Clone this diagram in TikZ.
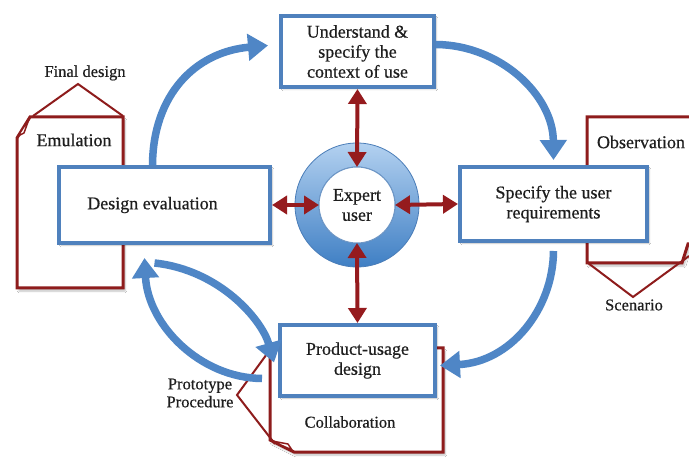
\documentclass[tikz,border=0pt]{standalone}
\usepackage{fontspec}
\setmainfont{Liberation Serif}[FakeBold=0.5]
\usetikzlibrary{arrows.meta,shadows.blur,calc}
\definecolor{boxblue}{HTML}{4F81BD}
\definecolor{arrblue}{HTML}{4F86C6}
\definecolor{docred}{HTML}{8E1C1C}
\definecolor{redarrow}{HTML}{951B1E}
\definecolor{txt}{HTML}{1E1E1E}
\definecolor{ringtop}{HTML}{B3D1F0}
\definecolor{ringbot}{HTML}{3F7FC4}
\definecolor{ringedge}{HTML}{4A7DB8}
\begin{document}
\begin{tikzpicture}[x=1pt,y=-1pt,
  procbox/.style={draw=boxblue, line width=4pt, fill=white, align=center,
    font=\fontsize{18}{20}\selectfont, text=txt, inner sep=0pt,
    blur shadow={shadow xshift=2pt, shadow yshift=-2pt, shadow blur steps=6, shadow opacity=25}},
  doc/.style={draw=docred, line width=3pt, line join=miter, fill=white,
    blur shadow={shadow xshift=2pt, shadow yshift=-3pt, shadow blur steps=6, shadow opacity=25}},
  docthin/.style={draw=docred, line width=2pt},
  flow/.style={draw=arrblue, line width=7.5pt, -{Triangle[length=20pt,width=26pt]}},
  twoway/.style={draw=redarrow, line width=4pt,
    {Triangle[length=15pt,width=18pt]}-{Triangle[length=15pt,width=18pt]}},
  lbl/.style={text=txt, inner sep=0pt},
  big/.style={font=\fontsize{18}{20}\selectfont},
  small/.style={font=\fontsize{16.5}{18}\selectfont},
]
\useasboundingbox[fill=white] (0,0) rectangle (689,457);

% ---------- documents ----------
% left: Emulation
\path[doc] (30,117) -- (123,117) -- (123,288) -- (17,288) -- (17,138) -- cycle;
\draw[docred, line width=1.5pt, fill=white, line join=round] (18,136) -- (29,119) -- (24,133) -- cycle;
\draw[docthin] (33,116) -- (78,84) -- (123,116);
% right: Observation
\path[doc] (696,117) -- (587,117) -- (587,263) -- (682,263) -- (688,244) -- (696,244);
\draw[docthin] (588,263) -- (633,297) -- (689,256);
% bottom: Collaboration
\path[doc] (270,348) -- (443,348) -- (443,452) -- (294,452) -- (270,440) -- cycle;
\draw[docred, line width=1.5pt, fill=white, line join=round] (272,441) -- (292,450) -- (288,444) -- cycle;
\draw[docthin] (272,347) -- (237,395) -- (275,444);

% ---------- process boxes ----------
\node[procbox, minimum width=153, minimum height=71] (tbox) at (357.5,51.5)
  {Understand \&\\specify the\\context of use};
\node[procbox, minimum width=211, minimum height=76] (lbox) at (164.5,205)
  {\hspace*{-24pt}Design evaluation};
\node[procbox, minimum width=187, minimum height=74] (rbox) at (553.5,204)
  {Specify the user\\requirements};
\node[procbox, minimum width=155, minimum height=71] (bbox) at (357.5,360.5)
  {Product-usage\\design};

% ---------- centre ring ----------
\path[even odd rule, top color=ringtop, bottom color=ringbot, draw=ringedge, line width=0.8pt]
  (357,205) circle[radius=62] (357,205) circle[radius=38];
\node[circle, minimum size=76, inner sep=0pt, outer sep=0pt, fill=white, draw=ringedge!80, line width=1pt,
  align=center, big, text=txt] (eu) at (357,205) {Expert\\user};

% ---------- red two-way arrows ----------
\draw[twoway] (tbox.south) -- (eu.north);
\draw[twoway] (bbox.north) -- (eu.south);
\draw[twoway] (lbox.east) -- (eu.west);
\draw[twoway] (rbox.west) -- (eu.east);

% ---------- blue cycle arrows ----------
\draw[flow] ([xshift=-12pt]lbox.north) .. controls (153,95) and (195,52) .. ([xshift=-11pt,yshift=6pt]tbox.west);
\draw[flow] ([yshift=7pt]tbox.east) .. controls (500,45) and (553,95) .. ([yshift=5pt]rbox.north);
\draw[flow] ([yshift=-8pt]rbox.south) .. controls (553,310) and (510,362) .. ([xshift=3pt,yshift=-5pt]bbox.east);
\draw[flow] ([xshift=-10pt,yshift=-18pt]lbox.south) .. controls (220,270) and (262,320) .. ([xshift=-4pt,yshift=-2pt]bbox.west);
\draw[flow] ([xshift=-16pt,yshift=-18pt]bbox.west) .. controls (200,378) and (148,325) .. ([xshift=-20pt,yshift=-13pt]lbox.south);

% ---------- labels ----------
\node[lbl, small] (fd) at (85,73) {Final design};
\node[lbl, big] (em) at (74,140) {Emulation};
\node[lbl, big] (ob) at (641,142) {Observation};
\node[lbl, small] (sc) at (634,305) {Scenario};
\node[lbl, small, align=center] (pp) at (200,393) {Prototype\\Procedure};
\node[lbl, small] (co) at (350,422) {Collaboration};
\end{tikzpicture}
\end{document}
